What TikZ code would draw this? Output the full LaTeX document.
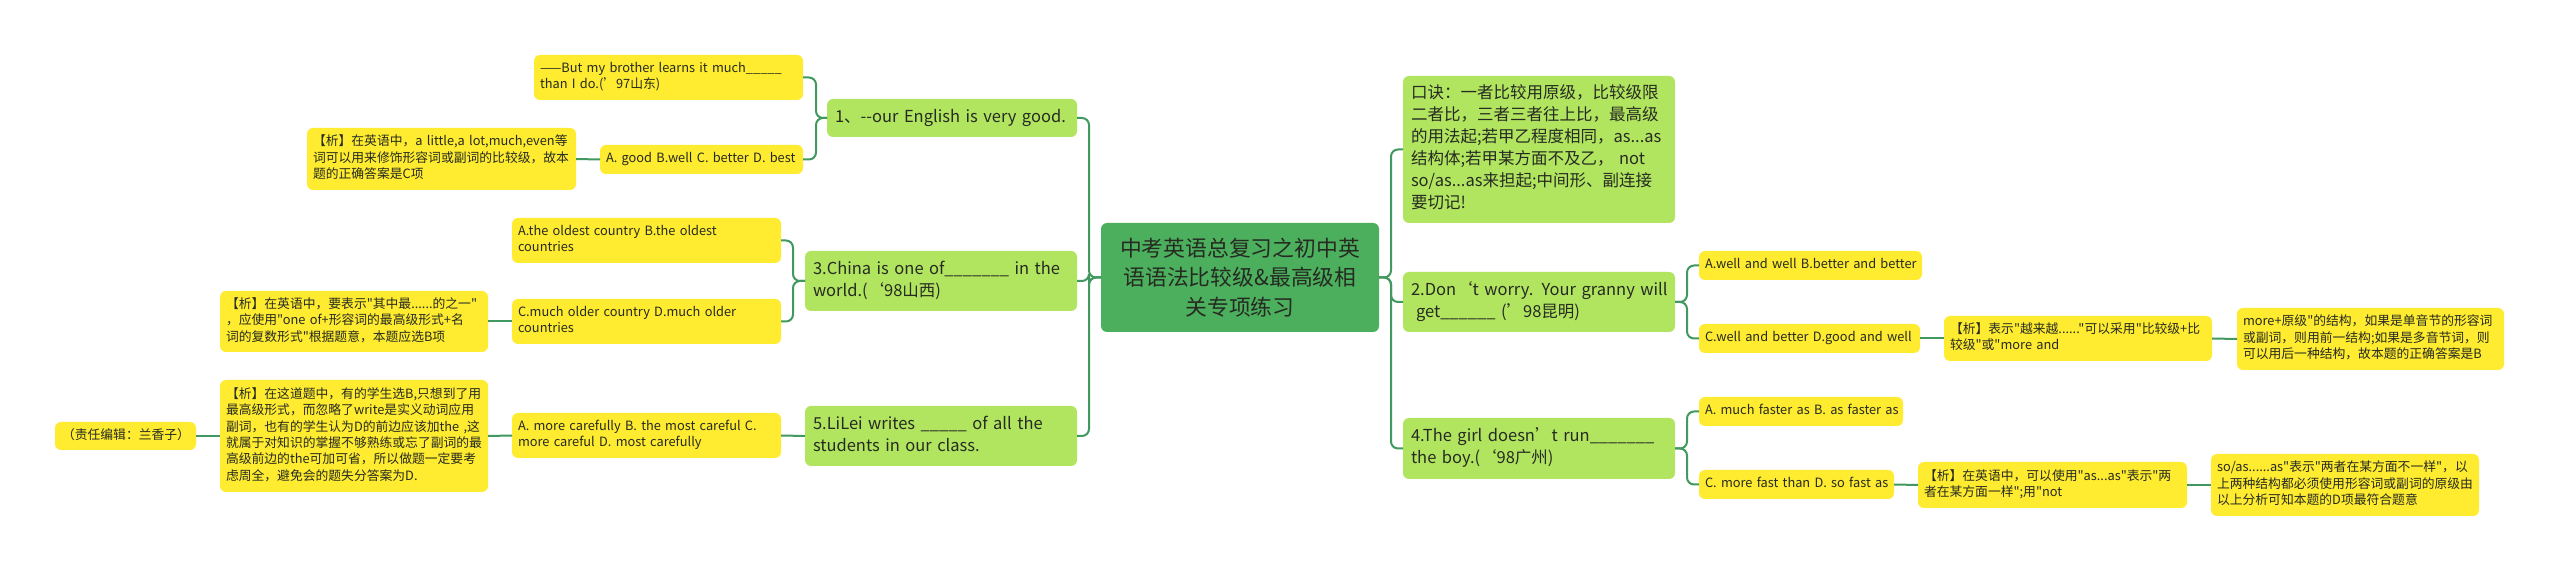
\documentclass[tikz,border=0pt]{standalone}
\usepackage{fontspec}
\newfontfamily\cardfont{Noto Sans CJK SC}
\definecolor{maingreen}{HTML}{4CAF5E}
\definecolor{levelgreen}{HTML}{B2E55F}
\definecolor{leafyellow}{HTML}{FFEB2F}
\definecolor{linkgreen}{HTML}{41995F}
\definecolor{inkdark}{HTML}{262B22}
\tikzset{
  card/.style={rectangle,rounded corners=3pt,text=inkdark,align=left,outer sep=0pt},
  leaf/.style={card,fill=leafyellow,font=\cardfont\fontsize{6.4}{8.2}\selectfont},
  level/.style={card,fill=levelgreen,font=\cardfont\fontsize{8.25}{11}\selectfont},
  rootcard/.style={card,fill=maingreen,align=center,font=\cardfont\fontsize{10.9}{14.6}\selectfont},
  link/.style={draw=linkgreen,line width=1pt,rounded corners=3.5pt}
}
% name, x1, y1, x2, y2, style, padding, text
\newcommand{\cardbox}[8]{%
  \pgfmathsetmacro{\cw}{(#4-#2)*0.5}%
  \pgfmathsetmacro{\ch}{(#5-#3)*0.5}%
  \pgfmathsetmacro{\cp}{#7*0.5}%
  \pgfmathsetmacro{\ct}{\cw-2*\cp}%
  \node[#6,minimum width=\cw pt,minimum height=\ch pt,inner xsep=\cp pt,inner ysep=0pt,text width=\ct pt] (#1) at ({(#2+#4)/2},{(#3+#5)/2}) {\rlap{\begin{tabular}{@{}l@{}}#8\end{tabular}}};%
}
\begin{document}
\begin{tikzpicture}[x=0.5pt,y=-0.5pt]
\useasboundingbox (0,0) rectangle (2560,571);
\fill[white] (0,0) rectangle (2560,571);
% bus coordinates
\coordinate (busL) at (1089,0);
\coordinate (busR) at (1391,0);
\coordinate (busA) at (816,0);
\coordinate (busB) at (793,0);
\coordinate (busC) at (1687,0);
% root
\node[rootcard,minimum width=139pt,minimum height=54.5pt,inner sep=0pt] (root) at (1240,277.5) {中考英语总复习之初中英\\语语法比较级\&最高级相\\关专项练习};
% left side
\cardbox{n1}{827}{99}{1077}{137}{level}{8}{1、--our English is very good.}
\cardbox{n3}{805}{251}{1077}{311}{level}{8}{3.China is one of\_\_\_\_\_\_\_ in the\\world.(‘98山西)}
\cardbox{n5}{805}{406}{1077}{466}{level}{8}{5.LiLei writes \_\_\_\_\_ of all the\\students in our class.}
\cardbox{a1}{534}{55}{803}{100}{leaf}{6}{——But my brother learns it much\_\_\_\_\_\\than I do.(’97山东)}
\cardbox{a2}{600}{145}{803}{174}{leaf}{6}{A. good B.well C. better D. best}
\cardbox{a3}{307}{128}{576}{190}{leaf}{6}{【析】在英语中，a little,a lot,much,even等\\词可以用来修饰形容词或副词的比较级，故本\\题的正确答案是C项}
\cardbox{b1}{512}{218}{781}{263}{leaf}{6}{A.the oldest country B.the oldest\\countries}
\cardbox{b2}{512}{299}{781}{344}{leaf}{6}{C.much older country D.much older\\countries}
\cardbox{b3}{220}{291}{488}{352}{leaf}{6}{【析】在英语中，要表示"其中最......的之一"\\，应使用"one of+形容词的最高级形式+名\\词的复数形式"根据题意，本题应选B项}
\cardbox{c1}{512}{413}{781}{458}{leaf}{6}{A. more carefully B. the most careful C.\\more careful D. most carefully}
\cardbox{c2}{220}{380}{488}{492}{leaf}{6}{【析】在这道题中，有的学生选B,只想到了用\\最高级形式，而忽略了write是实义动词应用\\副词，也有的学生认为D的前边应该加the ,这\\就属于对知识的掌握不够熟练或忘了副词的最\\高级前边的the可加可省，所以做题一定要考\\虑周全，避免会的题失分答案为D.}
\cardbox{c3}{55}{422}{196}{450}{leaf}{7}{（责任编辑：兰香子）}
% right side
\cardbox{m1}{1403}{76}{1675}{223}{level}{8}{口诀：一者比较用原级，比较级限\\二者比，三者三者往上比，最高级\\的用法起;若甲乙程度相同，as...as\\结构体;若甲某方面不及乙， not\\so/as...as来担起;中间形、副连接\\要切记!}
\cardbox{m2}{1403}{272}{1675}{332}{level}{8}{2.Don‘t worry. Your granny will\\\hspace{2.5pt}get\_\_\_\_\_\_ (’98昆明)}
\cardbox{m3}{1403}{418}{1675}{479}{level}{8}{4.The girl doesn’t run\_\_\_\_\_\_\_\\the boy.(‘98广州)}
\cardbox{d1}{1699}{251}{1922}{280}{leaf}{6}{A.well and well B.better and better}
\cardbox{d2}{1699}{324}{1920}{353}{leaf}{6}{C.well and better D.good and well}
\cardbox{d3}{1944}{316}{2212}{361}{leaf}{6}{【析】表示"越来越......"可以采用"比较级+比\\较级"或"more and}
\cardbox{d4}{2237}{308}{2504}{370}{leaf}{6}{more+原级"的结构，如果是单音节的形容词\\或副词，则用前一结构;如果是多音节词，则\\可以用后一种结构，故本题的正确答案是B}
\cardbox{e1}{1699}{397}{1903}{426}{leaf}{6}{A. much faster as B. as faster as}
\cardbox{e2}{1699}{470}{1894}{499}{leaf}{6}{C. more fast than D. so fast as}
\cardbox{e3}{1918}{462}{2187}{508}{leaf}{6}{【析】在英语中，可以使用"as...as"表示"两\\者在某方面一样";用"not}
\cardbox{e4}{2211}{454}{2479}{516}{leaf}{6}{so/as......as"表示"两者在某方面不一样"，以\\上两种结构都必须使用形容词或副词的原级由\\以上分析可知本题的D项最符合题意}
% connectors: root to level
\foreach \k in {n1,n3,n5}{
  \draw[link] (root.west) -- (busL|-root.west) -- (busL|-\k.east) -- (\k.east);
}
\foreach \k in {m1,m2,m3}{
  \draw[link] (root.east) -- (busR|-root.east) -- (busR|-\k.west) -- (\k.west);
}
% level to leaf
\foreach \k in {a1,a2}{
  \draw[link] (n1.west) -- (busA|-n1.west) -- (busA|-\k.east) -- (\k.east);
}
\foreach \k in {b1,b2}{
  \draw[link] (n3.west) -- (busB|-n3.west) -- (busB|-\k.east) -- (\k.east);
}
\foreach \k in {d1,d2}{
  \draw[link] (m2.east) -- (busC|-m2.east) -- (busC|-\k.west) -- (\k.west);
}
\foreach \k in {e1,e2}{
  \draw[link] (m3.east) -- (busC|-m3.east) -- (busC|-\k.west) -- (\k.west);
}
\draw[link] (n5.west) -- (c1.east);
\draw[link] (a2.west) -- (a3.east);
\draw[link] (b2.west) -- (b3.east);
\draw[link] (c1.west) -- (c2.east);
\draw[link] (c2.west) -- (c3.east);
\draw[link] (d2.east) -- (d3.west);
\draw[link] (d3.east) -- (d4.west);
\draw[link] (e2.east) -- (e3.west);
\draw[link] (e3.east) -- (e4.west);
\end{tikzpicture}
\end{document}
